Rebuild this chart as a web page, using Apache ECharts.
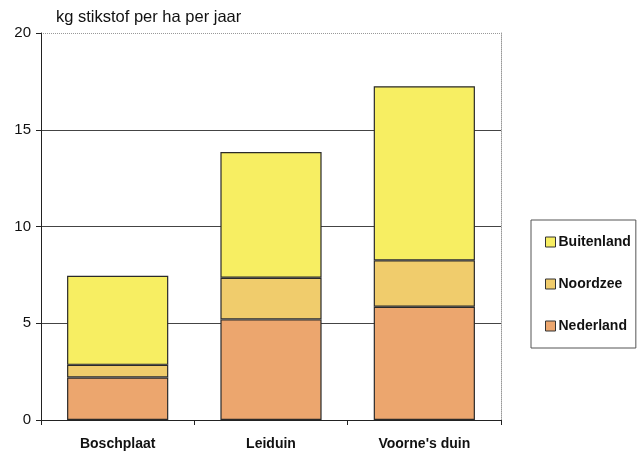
<!DOCTYPE html>
<html><head><meta charset="utf-8">
<script src="https://cdn.jsdelivr.net/npm/echarts@6/dist/echarts.min.js"></script>
<style>html,body{margin:0;padding:0;background:#fff}#c{width:641px;height:451px}</style>
</head><body><div id="c"></div>
<script>
const categories = ["Boschplaat", "Leiduin", "Voorne's duin"];
const nederland = [2.2, 5.2, 5.85];
const noordzee = [0.65, 2.15, 2.4];
const buitenland = [4.6, 6.5, 9.0];
const yTicks = [0, 5, 10, 15, 20];
const unitLabel = "kg stikstof per ha per jaar";

const chart = echarts.init(document.getElementById('c'), null, {renderer: 'canvas'});
const font = 'Liberation Sans, Arial, sans-serif';
function ser(name, data, color) {
  return {name, type: 'bar', stack: 's', data, barWidth: '66%',
    itemStyle: {color, borderColor: '#2a2a2a', borderWidth: 1.2}};
}
chart.setOption({
  animation: false,
  title: {text: unitLabel, left: 56, top: 9, padding: 0,
    textStyle: {fontFamily: font, fontSize: 16.5, fontWeight: 'normal', color: '#111'}},
  grid: {left: 41, right: 140, top: 33, bottom: 31, containLabel: false},
  legend: {
    orient: 'vertical', left: 531, top: 220,
    data: ['Buitenland', 'Noordzee', 'Nederland'],
    itemWidth: 10, itemHeight: 10, itemGap: 26,
    icon: 'rect',
    padding: [14, 5, 14, 14],
    borderColor: '#555', borderWidth: 1,
    itemStyle: {borderColor: '#333', borderWidth: 1},
    textStyle: {fontFamily: font, fontSize: 14, fontWeight: 'bold', color: '#111', lineHeight: 16, padding: [0, 0, 0, -2]}
  },
  xAxis: [{
    type: 'category', data: categories,
    axisLine: {lineStyle: {color: '#222', width: 1}},
    axisTick: {show: true, length: 5, lineStyle: {color: '#222'}},
    axisLabel: {fontFamily: font, fontSize: 14, fontWeight: 'bold', color: '#111', margin: 17}
  }],
  yAxis: [{
    type: 'value', min: 0, max: 20, interval: 5,
    axisLine: {show: true, lineStyle: {color: '#222', width: 1}},
    axisTick: {show: true, length: 5, inside: false, lineStyle: {color: '#222'}},
    axisLabel: {fontFamily: font, fontSize: 15, color: '#111', margin: 10,
      formatter: v => yTicks.includes(v) ? String(v) : ''},
    splitLine: {show: true, lineStyle: {color: ['transparent', '#444', '#444', '#444', 'transparent'], width: 1}}
  }, {
    type: 'value', min: 0, max: 20, interval: 5, position: 'right',
    axisLine: {show: true, lineStyle: {color: '#999', type: 'dotted'}},
    axisTick: {show: false}, axisLabel: {show: false},
    splitLine: {show: true, lineStyle: {color: ['transparent', 'transparent', 'transparent', 'transparent', '#999'], type: 'dotted', width: 1}}
  }],
  series: [
    ser('Nederland', nederland, '#eca66e'),
    ser('Noordzee', noordzee, '#f0cc6c'),
    ser('Buitenland', buitenland, '#f7ee62')
  ]
});
</script></body></html>
